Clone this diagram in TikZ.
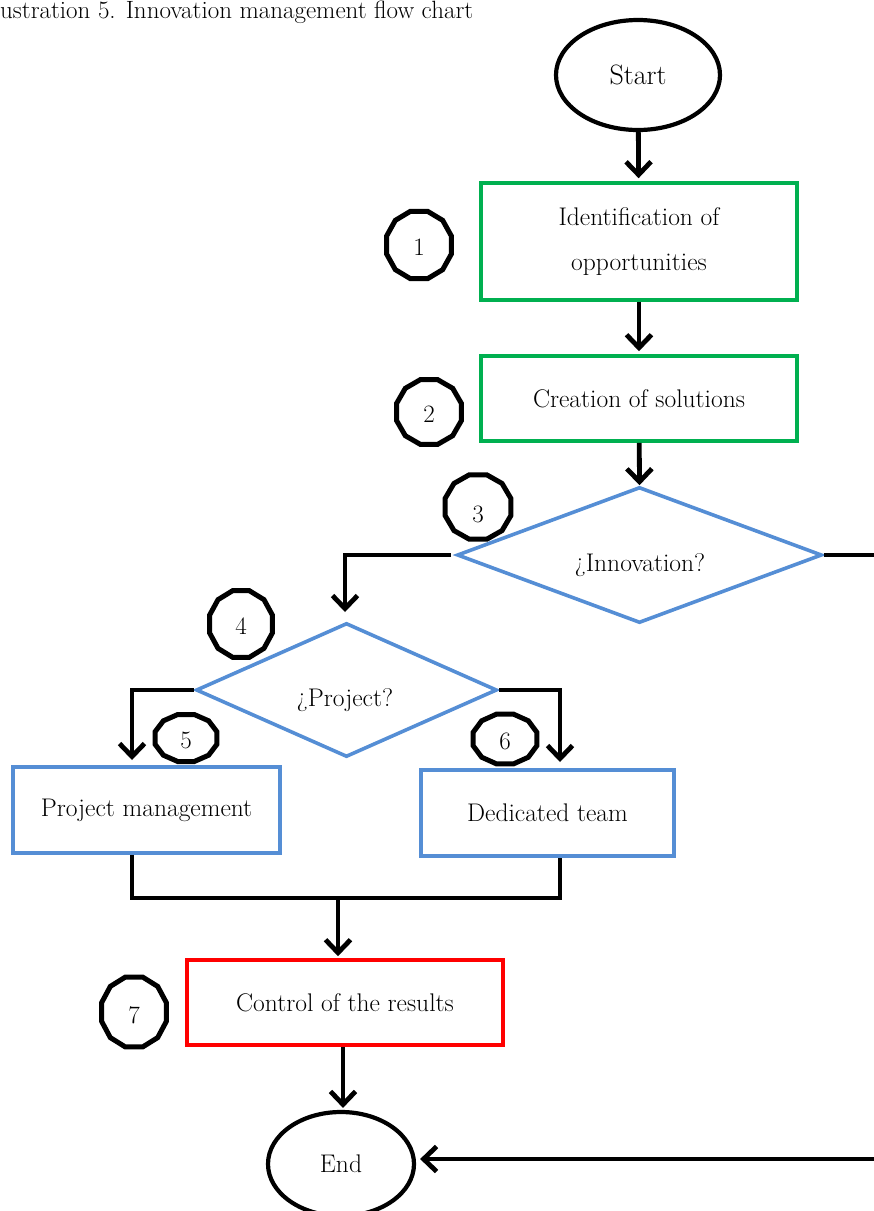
\documentclass[tikz,border=0pt]{standalone}
\usepackage{fontspec}
\usetikzlibrary{shapes.geometric,arrows.meta,calc}
\definecolor{boxgreen}{RGB}{0,176,80}
\definecolor{boxblue}{RGB}{85,142,213}
\definecolor{boxred}{RGB}{255,0,0}
\tikzset{
  conn/.style={line width=4.8pt, black, line join=miter},
  arr/.style={conn, -{Straight Barb[length=13pt,width=25pt]}},
  stepbox/.style={rectangle, draw=#1, line width=3.6pt, inner sep=0pt,
    font=\fontsize{25.5}{45}\selectfont, align=center},
  decision/.style={diamond, draw=boxblue, line width=3.6pt, inner sep=0pt},
  terminal/.style={ellipse, draw=black, line width=4.2pt, inner sep=0pt},
  num/.style={regular polygon, regular polygon sides=12, draw=black,
    line width=5pt, inner sep=0pt, minimum size=62pt},
  numtxt/.style={inner sep=0pt, font=\fontsize{25}{28}\selectfont},
  txt/.style={inner sep=0pt, font=\fontsize{25.5}{28}\selectfont}
}
\begin{document}
\begin{tikzpicture}[x=1pt,y=1pt]
\useasboundingbox (0,0) rectangle (874,-1211);
\clip (0,0) rectangle (874,-1211);

% caption
\node[anchor=base west, inner sep=0pt, font=\fontsize{25}{28}\selectfont]
  (title) at (0,-18.5) {ustration 5. Innovation management flow chart};

% terminals
\node[terminal, minimum width=164pt, minimum height=110pt,
  font=\fontsize{28}{32}\selectfont] (start) at (638,-75) {Start};
\node[terminal, minimum width=146pt, minimum height=104pt,
  font=\fontsize{25.5}{28}\selectfont] (end) at (341,-1164) {End};

% process boxes
\node[stepbox=boxgreen, minimum width=316pt, minimum height=117pt]
  (b1) at (639,-241.5) {Identification of\\opportunities};
\node[stepbox=boxgreen, minimum width=316pt, minimum height=85pt]
  (b2) at (639,-398.5) {Creation of solutions};
\node[stepbox=boxblue, minimum width=267pt, minimum height=86pt]
  (b5) at (146.5,-810) {Project management};
\node[stepbox=boxblue, minimum width=253pt, minimum height=86pt]
  (b6) at (547.5,-813) {Dedicated team};
\node[stepbox=boxred, minimum width=316pt, minimum height=85pt]
  (b7) at (345,-1002.5) {Control of the results};

% decisions
\node[decision, minimum width=365pt, minimum height=136pt] (d1) at (639.5,-555) {};
\node[txt] (t1) at (640,-565) {¿Innovation?};
\node[decision, minimum width=301pt, minimum height=134pt] (d2) at (346.5,-690) {};
\node[txt] (t2) at (345,-700) {¿Project?};

% step numbers
\node[num, minimum size=67pt, yscale=1.04] (n1) at (419,-245) {};
\node[num, minimum size=67pt, yscale=1.0] (n2) at (429,-412) {};
\node[num, minimum size=68pt, yscale=0.98] (n3) at (478,-507) {};
\node[num, minimum size=65pt, yscale=1.06] (n4) at (241,-624) {};
\node[num, minimum size=64pt, yscale=0.76] (n5) at (186,-738) {};
\node[num, minimum size=66pt, yscale=0.78] (n6) at (505,-739) {};
\node[num, minimum size=67pt, yscale=1.08] (n7) at (134,-1012) {};
\foreach \n/\dy in {1/2,2/2,3/7,4/2,5/2,6/2,7/3}
  \node[numtxt] (l\n) at ([yshift=-\dy pt]n\n.center) {\n};

% branch points
\coordinate (j4) at (345,-612);
\coordinate (j5) at (132,-760);
\coordinate (j6) at (560,-762);
\coordinate (m) at (338,-898);
\coordinate (r1) at (880,-555);
\coordinate (r2) at (880,-1159);

% connectors
\draw[arr, shorten >=3pt] (start) -- (b1);
\draw[arr, shorten >=3pt] (b1) -- (b2);
\draw[arr] (b2) -- (d1.north);
\draw[arr] ([xshift=-4pt]d1.west) -| (j4);
\draw[arr] (d2.west) -| (j5);
\draw[arr] (d2.east) -| (j6);
\draw[conn] (j5 |- b5.south) |- (m) -| (j6 |- b6.south);
\draw[arr, shorten >=2pt] (m) -- (m |- b7.north);
\draw[arr, shorten >=2pt] ($(b7.south)+(-2,0)$) -- ($(end.north)+(2,0)$);
\draw[conn] (d1.east) -- (r1) -- (r2);
\draw[arr, shorten >=4pt] (r2) -- (r2 -| end.east);
\end{tikzpicture}
\end{document}
